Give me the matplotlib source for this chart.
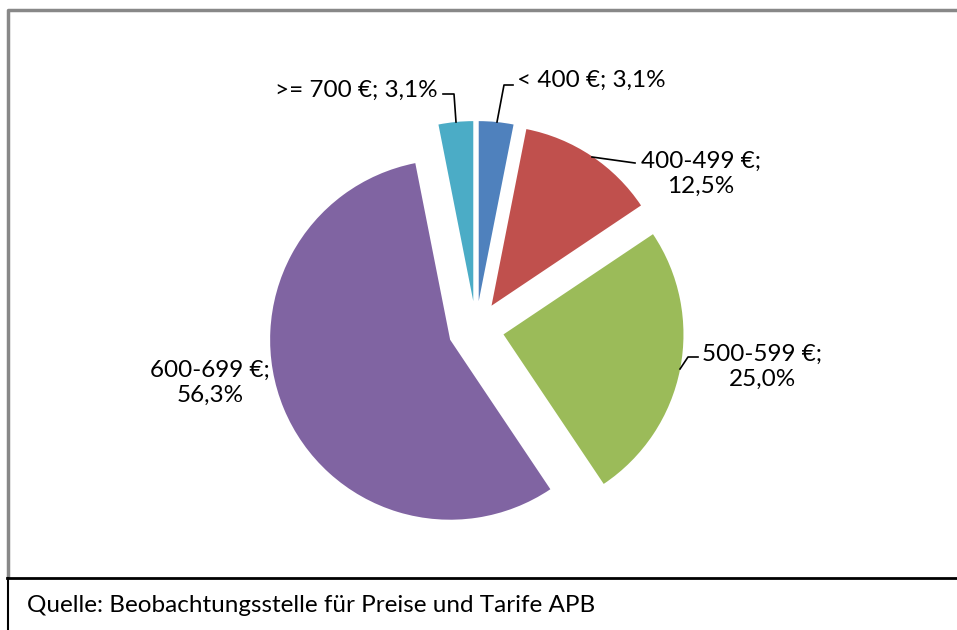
import matplotlib
matplotlib.use("Agg")
import matplotlib.pyplot as plt

categories = ["< 400 €", "400-499 €", "500-599 €", "600-699 €", ">= 700 €"]
shares = [3.1, 12.5, 25.0, 56.3, 3.1]
colors = ["#4F81BD", "#C0504D", "#9BBB59", "#8064A2", "#4BACC6"]
source = "Quelle: Beobachtungsstelle für Preise und Tarife APB"

W, H = 957, 630
fig = plt.figure(figsize=(W / 100, H / 100), dpi=100)
ax = fig.add_axes([0, 0, 1, 1])
plt.rcParams['font.family'] = ['Lato', 'DejaVu Sans']

def Y(y):
    return H - y

R = 180
cx, cy = 476, 329
ax.pie(shares, colors=colors, startangle=90, counterclock=False,
       center=(cx, Y(cy)), radius=R, explode=[28] * len(shares),
       wedgeprops=dict(linewidth=0))
ax.set_xlim(0, W)
ax.set_ylim(0, H)
ax.set_aspect('equal')
ax.axis('off')

def fmt(c, v, two_lines):
    s = f"{v:.1f}".replace('.', ',') + "%"
    return f"{c};\n{s}" if two_lines else f"{c}; {s}"

fs = 17.5
ls = 1.2
# labels
ax.text(438, Y(90), fmt(categories[4], shares[4], False), ha='right', va='center', fontsize=fs)
ax.text(517, Y(80), fmt(categories[0], shares[0], False), ha='left', va='center', fontsize=fs)
ax.text(701, Y(174), fmt(categories[1], shares[1], True), ha='center', va='center', fontsize=fs, linespacing=ls)
ax.text(762, Y(367), fmt(categories[2], shares[2], True), ha='center', va='center', fontsize=fs, linespacing=ls)
ax.text(210, Y(383), fmt(categories[3], shares[3], True), ha='center', va='center', fontsize=fs, linespacing=ls)

# leader lines
lk = dict(color='black', lw=1.2)
ax.plot([443, 454, 456], [Y(94), Y(94), Y(122)], **lk)
ax.plot([513, 504, 497], [Y(85), Y(85), Y(122)], **lk)
ax.plot([592, 635], [Y(157), Y(163)], **lk)
ax.plot([680, 688, 698], [Y(369), Y(357), Y(357)], **lk)

# frames
ax.plot([8, 8, W], [Y(578), Y(10), Y(10)], color='#888888', lw=2.5, clip_on=False, solid_capstyle='butt')
ax.plot([8, 8], [0, Y(578)], color='black', lw=1.5, clip_on=False)
ax.plot([7, W], [Y(578), Y(578)], color='black', lw=2, clip_on=False)

ax.text(27, Y(605), source, ha='left', va='center', fontsize=fs)

fig.savefig("out.png", dpi=100)
